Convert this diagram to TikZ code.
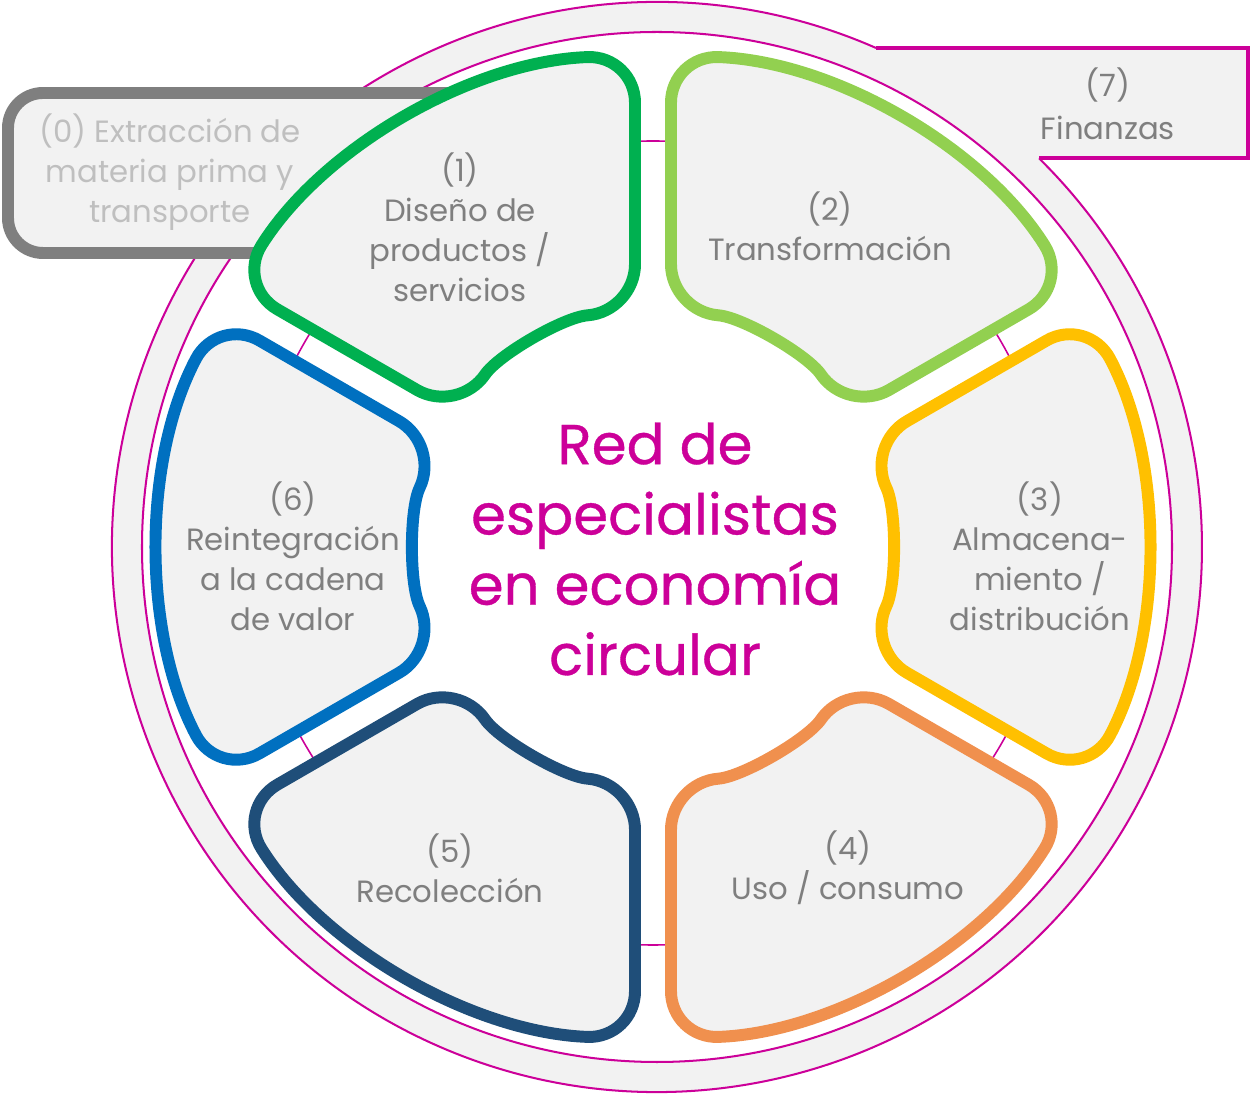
\documentclass[tikz,border=0pt]{standalone}
\usepackage{fontspec}
\setmainfont{Poppins}
\newfontfamily\redfont{Poppins}[FakeBold=0.6]
\usepackage{xcolor}
\usetikzlibrary{positioning}
\definecolor{ringc}{HTML}{CC0099}
\definecolor{paper}{HTML}{F2F2F2}
\definecolor{labelc}{HTML}{7F7F7F}
\definecolor{palec}{HTML}{BFBFBF}
\definecolor{boxc}{HTML}{7F7F7F}
\definecolor{disen}{HTML}{00B050}
\definecolor{trans}{HTML}{92D050}
\definecolor{almac}{HTML}{FFC000}
\definecolor{consu}{HTML}{F0904E}
\definecolor{recol}{HTML}{1F4E79}
\definecolor{reint}{HTML}{0070C0}
\tikzset{
  petal/.style={draw=#1,fill=paper,line width=6.8pt,rounded corners=0.95cm},
  lab/.style={text=labelc,align=center,font=\fontsize{17.5}{22.8}\selectfont},
  ringline/.style={draw=ringc,line width=1.15pt},
}

\begin{document}
\begin{tikzpicture}[x=0.02cm,y=0.02cm]
  \useasboundingbox (0,0) rectangle (1252,1095);
  % ring and finance tab
  \fill[paper] (657,548) circle[radius=545];
  \fill[paper] (800,937) rectangle (1248,1047);
  \draw[ringline] (657,548) ++(66.3:545) arc[start angle=66.3,end angle=405.5,radius=545];
  \draw[draw=ringc,line width=2.8pt] (876,1047) -- (1248,1047) -- (1248,937) -- (1039,937);
  \filldraw[ringline,fill=white] (657,548) circle[radius=515];
  % stage 0 box
  \draw[draw=boxc,fill=paper,line width=6.8pt,rounded corners=0.7cm] (8,842) rectangle (560,1002);
  \draw[draw=ringc,line width=0.9pt] (653,552) circle[radius=402];
  % the six stages
  \begin{scope}[shift={(653,548)}]
    \foreach \a/\c in {120/disen,60/trans,0/almac,-60/consu,-120/recol,180/reint}{
      \draw[petal=\c] ({\a-30+asin(18/492)}:492)
        arc[start angle={\a-30+asin(18/492)},end angle={\a+30-asin(18/492)},radius=492]
        -- ({\a+30-asin(18/236)}:236)
        arc[start angle={\a+30-asin(18/236)},end angle={\a-30+asin(18/236)},radius=236]
        -- cycle;
    }
  \end{scope}
  \node[lab,text=palec] (l0) at (170,923) {(0) Extracción de\\materia prima y\\transporte};
  \node[lab] (l1) at (460,868) {(1)\\Diseño de\\productos /\\servicios};
  \node[lab] (l2) at (830,869) {(2)\\Transformación};
  \node[lab] (l3) at (1040,539) {(3)\\Almacena-\\miento /\\distribución};
  \node[lab] (l4) at (848,227) {(4)\\Uso / consumo};
  \node[lab] (l5) at (450,227) {(5)\\Recolección};
  \node[lab] (l6) at (293,539) {(6)\\Reintegración\\a la cadena\\de valor};
  \node[lab,font=\fontsize{17.5}{24.5}\selectfont] (l7) at (1108,991) {(7)\\Finanzas};
  \node[text=ringc,align=center,font=\redfont\fontsize{32}{40}\selectfont] (red) at (655,546)
    {Red de\\especialistas\\en economía\\circular};
\end{tikzpicture}
\end{document}
